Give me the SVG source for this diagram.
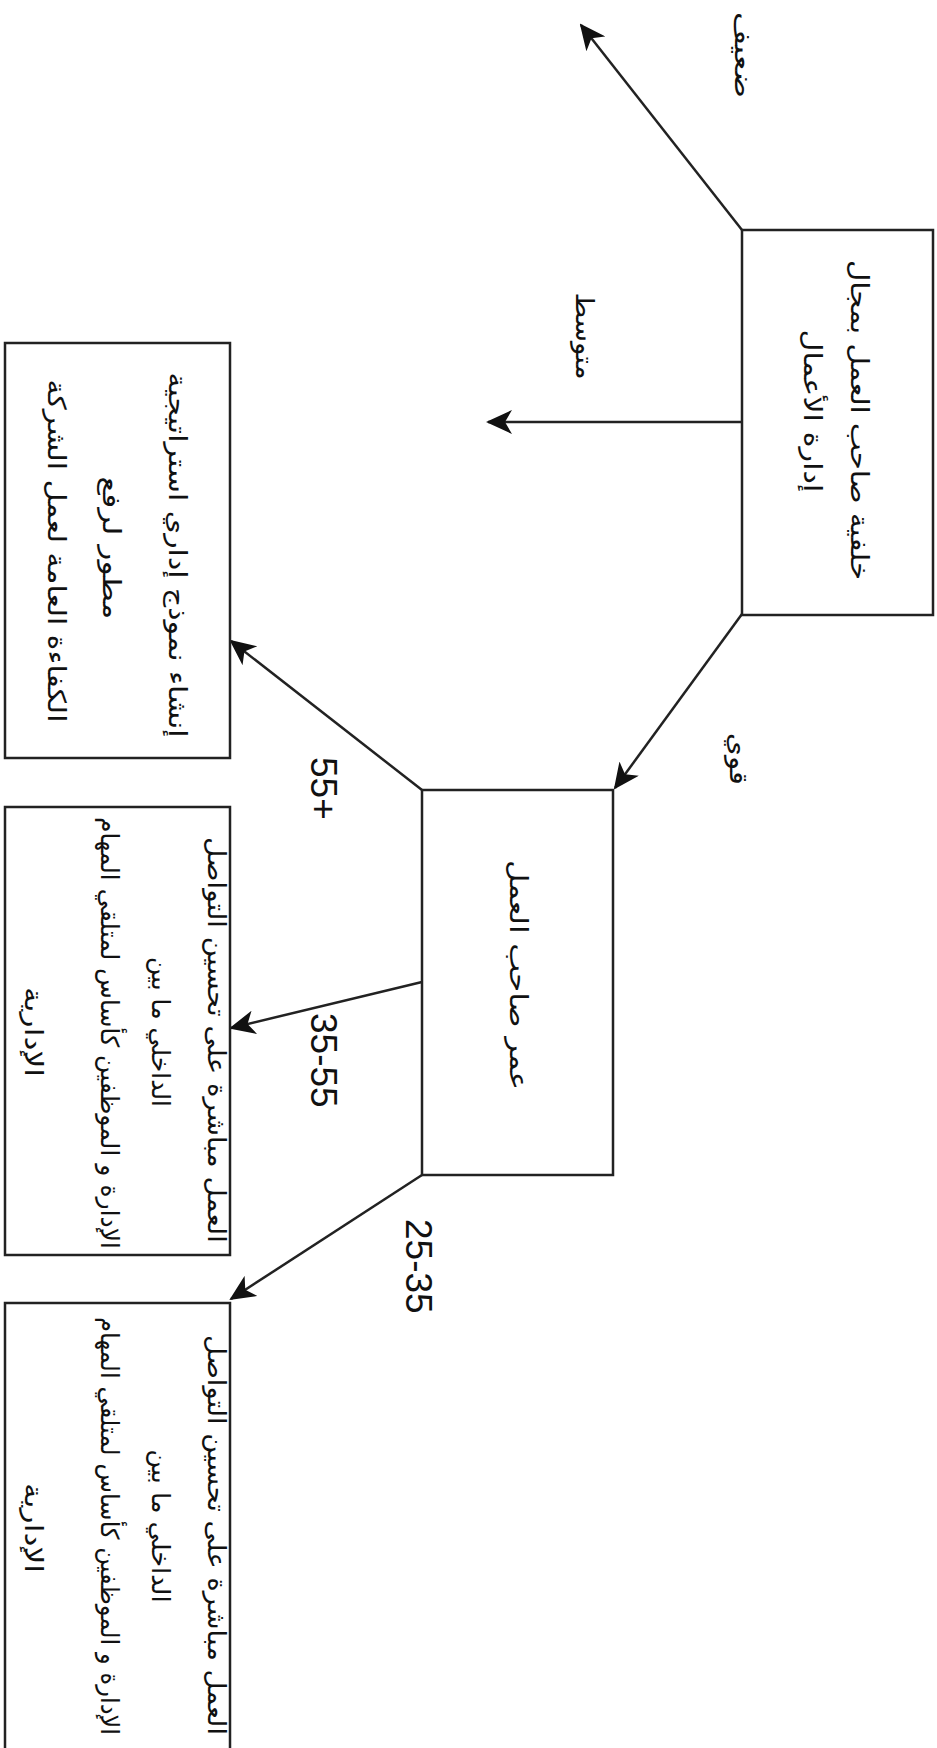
<svg xmlns="http://www.w3.org/2000/svg" width="937" height="1748" viewBox="0 0 937 1748">
<defs>
<style>
.box{fill:#fff;stroke:#222;stroke-width:2.5}
.conn{fill:none;stroke:#222;stroke-width:2.5}
.ar{font-family:"DejaVu Sans",sans-serif;font-size:25px;fill:#111}
.num{font-family:"Liberation Sans",Arial,sans-serif;font-size:37px;fill:#111}
</style>
<marker id="ah" viewBox="0 0 26 24" markerWidth="26" markerHeight="24" refX="24" refY="12" orient="auto" markerUnits="userSpaceOnUse">
<path d="M0,0 L26,12 L0,24 L7,12 z" fill="#111"/>
</marker>
</defs>
<rect width="937" height="1748" fill="#fff"/>
<g id="connectors">
<line class="conn" x1="742" y1="230" x2="581" y2="25" marker-end="url(#ah)"/>
<line class="conn" x1="742" y1="422" x2="488" y2="422" marker-end="url(#ah)"/>
<line class="conn" x1="742" y1="614" x2="615" y2="788" marker-end="url(#ah)"/>
<line class="conn" x1="422" y1="790" x2="231" y2="641" marker-end="url(#ah)"/>
<line class="conn" x1="422" y1="982" x2="231" y2="1028" marker-end="url(#ah)"/>
<line class="conn" x1="422" y1="1175" x2="231" y2="1299" marker-end="url(#ah)"/>
</g>
<g id="labels">
<text class="ar" transform="translate(735,55) rotate(90)" text-anchor="middle" textLength="86" lengthAdjust="spacingAndGlyphs">ضعيف</text>
<text class="ar" transform="translate(576,336) rotate(90)" text-anchor="middle" textLength="87" lengthAdjust="spacingAndGlyphs">متوسط</text>
<text class="ar" transform="translate(730,759) rotate(90)" text-anchor="middle" textLength="52" lengthAdjust="spacingAndGlyphs">قوي</text>
<text class="num" transform="translate(311,757) rotate(90)">55+</text>
<text class="num" transform="translate(311,1013) rotate(90)">35-55</text>
<text class="num" transform="translate(406,1219) rotate(90)">25-35</text>
</g>
<g id="node-background">
<rect class="box" x="742" y="230" width="191" height="385"/>
<text class="ar" transform="translate(851,420) rotate(90)" text-anchor="middle" textLength="320" lengthAdjust="spacingAndGlyphs">خلفية صاحب العمل بمجال</text>
<text class="ar" transform="translate(804,411) rotate(90)" text-anchor="middle" textLength="163" lengthAdjust="spacingAndGlyphs">إدارة الأعمال</text>
</g>
<g id="node-age">
<rect class="box" x="422" y="790" width="191" height="385"/>
<text class="ar" transform="translate(510,975) rotate(90)" text-anchor="middle" textLength="230" lengthAdjust="spacingAndGlyphs">عمر صاحب العمل</text>
</g>
<g id="node-55plus">
<rect class="box" x="5" y="343" width="225" height="415"/>
<text class="ar" transform="translate(169,555) rotate(90)" text-anchor="middle" textLength="365" lengthAdjust="spacingAndGlyphs">إنشاء نموذج إداري استراتيجية</text>
<text class="ar" transform="translate(103,548) rotate(90)" text-anchor="middle" textLength="143" lengthAdjust="spacingAndGlyphs">مطور لرفع</text>
<text class="ar" transform="translate(48,551) rotate(90)" text-anchor="middle" textLength="343" lengthAdjust="spacingAndGlyphs">الكفاءة العامة لعمل الشركة</text>
</g>
<g id="node-35-55">
<rect class="box" x="5" y="807" width="225" height="448"/>
<text class="ar" transform="translate(208,1040) rotate(90)" text-anchor="middle" textLength="406" lengthAdjust="spacingAndGlyphs">العمل مباشرة على تحسين التواصل</text>
<text class="ar" transform="translate(152,1032) rotate(90)" text-anchor="middle" textLength="150" lengthAdjust="spacingAndGlyphs">الداخلي ما بين</text>
<text class="ar" transform="translate(101,1033) rotate(90)" text-anchor="middle" textLength="432" lengthAdjust="spacingAndGlyphs">الإدارة و الموظفين كأساس لمتلقي المهام</text>
<text class="ar" transform="translate(25,1032) rotate(90)" text-anchor="middle" textLength="90" lengthAdjust="spacingAndGlyphs">الإدارية</text>
</g>
<g id="node-25-35">
<rect class="box" x="5" y="1303" width="225" height="470"/>
<text class="ar" transform="translate(208,1535) rotate(90)" text-anchor="middle" textLength="400" lengthAdjust="spacingAndGlyphs">العمل مباشرة على تحسين التواصل</text>
<text class="ar" transform="translate(152,1526) rotate(90)" text-anchor="middle" textLength="153" lengthAdjust="spacingAndGlyphs">الداخلي ما بين</text>
<text class="ar" transform="translate(101,1526) rotate(90)" text-anchor="middle" textLength="418" lengthAdjust="spacingAndGlyphs">الإدارة و الموظفين كأساس لمتلقي المهام</text>
<text class="ar" transform="translate(25,1528) rotate(90)" text-anchor="middle" textLength="90" lengthAdjust="spacingAndGlyphs">الإدارية</text>
</g>
</svg>
